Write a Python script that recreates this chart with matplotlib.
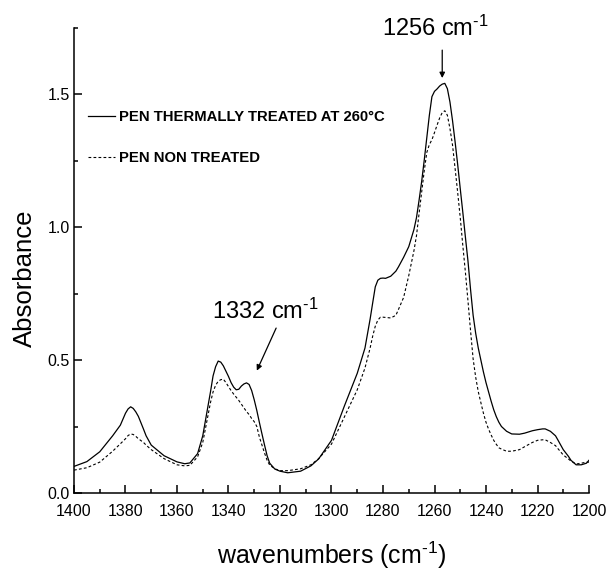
import matplotlib
matplotlib.use('Agg')
import matplotlib.pyplot as plt
from matplotlib.ticker import MultipleLocator, FormatStrFormatter

plt.rcParams['font.family'] = ['Liberation Sans', 'DejaVu Sans']
plt.rcParams['mathtext.fontset'] = 'custom'
plt.rcParams['mathtext.rm'] = 'Liberation Sans'
plt.rcParams['mathtext.it'] = 'Liberation Sans'

# wavenumbers (cm-1)
wavenumbers = [1400, 1395, 1390, 1385, 1382, 1380, 1379, 1378, 1377, 1376,
               1375, 1373, 1372, 1370, 1365, 1360, 1357, 1355, 1352, 1350,
               1347, 1346, 1345, 1344, 1343, 1342, 1341, 1340, 1339, 1338,
               1337, 1336, 1335, 1334, 1333, 1332, 1331, 1330, 1329, 1328,
               1327, 1326, 1325, 1324, 1322, 1320, 1317, 1312, 1308, 1305,
               1300, 1295, 1290, 1287, 1285, 1284, 1283, 1282, 1281, 1280,
               1279, 1277, 1275, 1274, 1272, 1270, 1268, 1267, 1266, 1265,
               1264, 1263, 1262, 1261, 1260, 1259, 1258, 1257, 1256, 1255,
               1254, 1253, 1252, 1251, 1250, 1249, 1248, 1247, 1246, 1245,
               1244, 1243, 1242, 1241, 1240, 1239, 1238, 1237, 1236, 1235,
               1234, 1232, 1230, 1227, 1225, 1222, 1220, 1218, 1217, 1215,
               1213, 1212, 1210, 1208, 1207, 1205, 1203, 1201, 1200]

# PEN thermally treated at 260 C (solid)
treated = [0.100, 0.118, 0.155, 0.215, 0.255, 0.300, 0.316, 0.324, 0.318, 0.305,
           0.288, 0.240, 0.215, 0.180, 0.140, 0.117, 0.110, 0.113, 0.148, 0.215,
           0.380, 0.440, 0.475, 0.496, 0.492, 0.478, 0.458, 0.438, 0.415, 0.398,
           0.388, 0.390, 0.402, 0.410, 0.414, 0.408, 0.385, 0.350, 0.310, 0.265,
           0.222, 0.180, 0.140, 0.112, 0.090, 0.082, 0.076, 0.082, 0.102, 0.128,
           0.198, 0.327, 0.450, 0.545, 0.654, 0.715, 0.775, 0.800, 0.807, 0.808,
           0.807, 0.815, 0.834, 0.850, 0.886, 0.926, 0.990, 1.035, 1.100, 1.170,
           1.250, 1.335, 1.420, 1.490, 1.510, 1.519, 1.530, 1.537, 1.540, 1.520,
           1.470, 1.400, 1.320, 1.235, 1.144, 1.055, 0.962, 0.872, 0.765, 0.668,
           0.600, 0.545, 0.500, 0.455, 0.415, 0.380, 0.345, 0.313, 0.287, 0.266,
           0.250, 0.232, 0.222, 0.221, 0.225, 0.234, 0.238, 0.241, 0.241, 0.232,
           0.215, 0.198, 0.163, 0.138, 0.123, 0.106, 0.106, 0.112, 0.123]

# PEN non treated (dashed)
non_treated = [0.086, 0.095, 0.116, 0.157, 0.185, 0.204, 0.216, 0.222, 0.220, 0.213,
               0.204, 0.190, 0.180, 0.163, 0.129, 0.106, 0.102, 0.104, 0.136, 0.190,
               0.340, 0.380, 0.405, 0.420, 0.426, 0.428, 0.415, 0.400, 0.385, 0.372,
               0.360, 0.348, 0.334, 0.320, 0.306, 0.295, 0.280, 0.268, 0.250, 0.210,
               0.180, 0.150, 0.123, 0.105, 0.091, 0.084, 0.084, 0.091, 0.106, 0.129,
               0.184, 0.286, 0.388, 0.470, 0.545, 0.590, 0.627, 0.650, 0.661, 0.661,
               0.660, 0.658, 0.668, 0.690, 0.735, 0.817, 0.910, 0.967, 1.050, 1.130,
               1.210, 1.280, 1.310, 1.328, 1.355, 1.383, 1.410, 1.430, 1.437, 1.420,
               1.370, 1.308, 1.220, 1.130, 1.035, 0.930, 0.830, 0.722, 0.610, 0.504,
               0.435, 0.381, 0.340, 0.300, 0.266, 0.240, 0.218, 0.198, 0.183, 0.170,
               0.165, 0.157, 0.157, 0.163, 0.174, 0.190, 0.198, 0.200, 0.200, 0.190,
               0.178, 0.166, 0.143, 0.128, 0.120, 0.109, 0.112, 0.116, 0.116]

labels = ['PEN THERMALLY TREATED AT 260\u00b0C', 'PEN NON TREATED']


def plot_spectra():
    fig = plt.figure(figsize=(6.13, 5.70), dpi=100)
    ax = fig.add_axes([74 / 613, 77 / 570, 515 / 613, 1.75 * 266 / 570])

    ax.plot(wavenumbers, treated, color='black', linewidth=0.9, label=labels[0])
    ax.plot(wavenumbers, non_treated, color='black', linewidth=0.8,
            linestyle=(0, (2.5, 2)), label=labels[1])

    ax.set_xlim(1400, 1200)
    ax.set_ylim(0, 1.75)

    ax.xaxis.set_major_locator(MultipleLocator(20))
    ax.xaxis.set_minor_locator(MultipleLocator(10))
    ax.yaxis.set_major_locator(MultipleLocator(0.5))
    ax.yaxis.set_minor_locator(MultipleLocator(0.25))
    ax.yaxis.set_major_formatter(FormatStrFormatter('%.1f'))

    ax.spines['top'].set_visible(False)
    ax.spines['right'].set_visible(False)
    ax.spines['left'].set_linewidth(1.1)
    ax.spines['bottom'].set_linewidth(1.1)

    ax.tick_params(which='major', direction='in', length=6, width=1.1, labelsize=11.5)
    ax.tick_params(which='minor', direction='in', length=3, width=1.1)
    ax.tick_params(axis='x', which='major', pad=8)
    ax.tick_params(axis='y', which='major', pad=3)

    ax.set_xlabel('wavenumbers (cm$^{\\text{-1}}$)', fontsize=18, labelpad=15)
    ax.set_ylabel('Absorbance', fontsize=18.5)
    ax.yaxis.set_label_coords(-0.072, 0.462)

    # peak annotations
    ax.annotate('', xy=(1257, 1.56), xytext=(1257, 1.665), annotation_clip=False,
                arrowprops=dict(arrowstyle='-|>', color='black', lw=0.9,
                                mutation_scale=8, shrinkA=0, shrinkB=0))
    ax.text(1259.5, 1.72, '1256 cm$^{\\text{-1}}$', ha='center', va='baseline',
            fontsize=17, clip_on=False)
    ax.annotate('', xy=(1329, 0.46), xytext=(1321.5, 0.62),
                arrowprops=dict(arrowstyle='-|>', color='black', lw=0.9,
                                mutation_scale=8, shrinkA=0, shrinkB=0))
    ax.text(1325.8, 0.655, '1332 cm$^{\\text{-1}}$', ha='center', va='baseline',
            fontsize=17)

    ax.legend(loc='upper left', bbox_to_anchor=(0.027, 0.823), frameon=False,
              prop={'family': 'Liberation Sans', 'weight': 'bold', 'size': 10.7},
              handlelength=1.8, handletextpad=0.27, labelspacing=1.85,
              borderpad=0, borderaxespad=0)

    plt.savefig('out.png', dpi=100)
    plt.close()


def main():
    plot_spectra()


if __name__ == "__main__":
    main()
